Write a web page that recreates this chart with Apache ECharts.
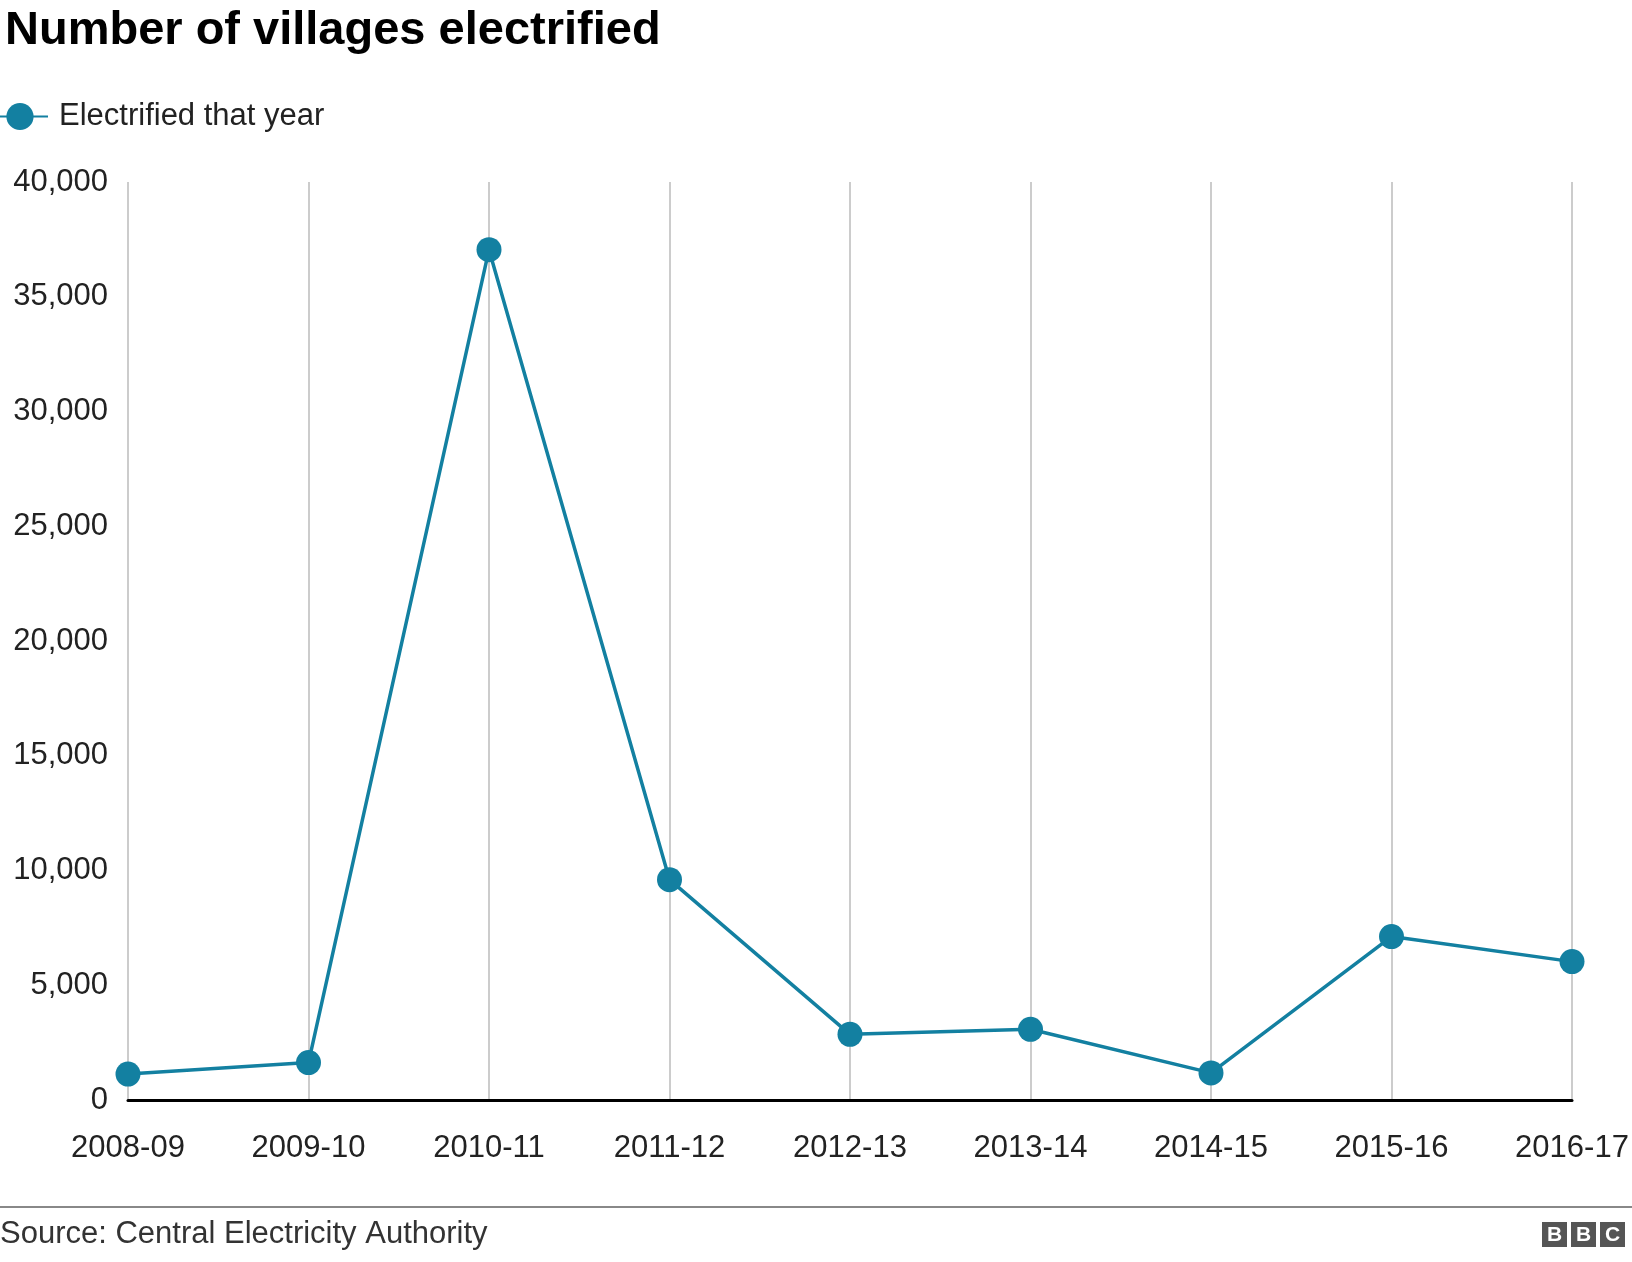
<!DOCTYPE html>
<html>
<head>
<meta charset="utf-8">
<script src="https://cdn.jsdelivr.net/npm/echarts@6/dist/echarts.min.js"></script>
<style>html,body{margin:0;padding:0;background:#fff}#main{width:1632px;height:1262px}</style>
</head>
<body>
<div id="main"></div>
<script>
var years=['2008-09','2009-10','2010-11','2011-12','2012-13','2013-14','2014-15','2015-16','2016-17'];
var electrified=[1130,1630,37050,9600,2860,3080,1180,7120,6030];
var yTicks=[0,5000,10000,15000,20000,25000,30000,35000,40000];

var myChart=echarts.init(document.getElementById('main'));
var F='Liberation Sans, Arial, sans-serif';
function bbcBox(x,letter){
    return {type:'group',x:x,y:1222,children:[
        {type:'rect',shape:{x:0,y:0,width:25,height:25},style:{fill:'#555'}},
        {type:'text',x:12.5,y:13,style:{text:letter,fill:'#fff',font:'bold 21px '+F,align:'center',verticalAlign:'middle'}}
    ]};
}
option={
    animation:false,
    title:{text:'Number of villages electrified',left:0,top:3,
        textStyle:{fontFamily:F,fontSize:47,fontWeight:'bold',color:'#000'}},
    legend:{left:-14,top:96,itemWidth:56,itemHeight:34,itemGap:10,
        textStyle:{fontFamily:F,fontSize:31,color:'#222',padding:[0,0,0,6]},
        data:['Electrified that year']},
    grid:{left:128,right:60,top:182,bottom:162},
    xAxis:{type:'category',data:years,boundaryGap:false,
        axisLine:{lineStyle:{color:'#000',width:3}},
        axisTick:{show:false},
        axisLabel:{fontFamily:F,fontSize:31,color:'#222',margin:33},
        splitLine:{show:true,lineStyle:{color:'#ccc',width:2}}},
    yAxis:{type:'value',min:0,max:40000,interval:5000,
        axisLine:{show:false},axisTick:{show:false},splitLine:{show:false},
        axisLabel:{fontFamily:F,fontSize:31,color:'#222',margin:20,
            formatter:function(v){return v.toLocaleString('en-US');}}},
    series:[{name:'Electrified that year',type:'line',data:electrified,
        symbol:'circle',symbolSize:25,
        lineStyle:{color:'#1380a1',width:3.5},
        itemStyle:{color:'#1380a1'}}],
    graphic:[
        {type:'line',shape:{x1:0,y1:1207,x2:1632,y2:1207},style:{stroke:'#888',lineWidth:2}},
        {type:'text',x:0,y:1219,style:{text:'Source: Central Electricity Authority',font:'31px '+F,fill:'#333'}},
        bbcBox(1542,'B'),bbcBox(1571,'B'),bbcBox(1600,'C')
    ]
};
myChart.setOption(option);
</script>
</body>
</html>
